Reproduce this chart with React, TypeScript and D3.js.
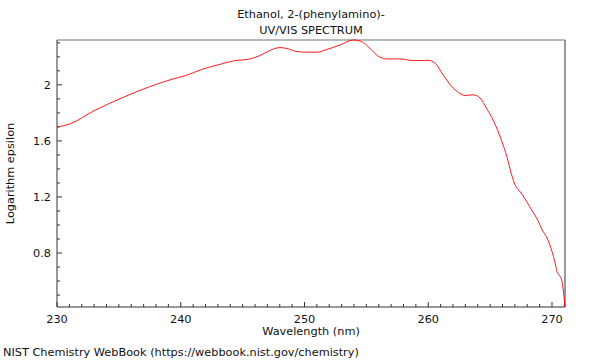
import React, { useRef, useEffect } from 'react';
import * as d3 from 'd3';

// spectrum (wavelength nm, log epsilon)
const wavelengths = [
  230.0, 231.0, 233.1, 235.2, 237.4, 239.3, 240.4, 241.6, 243.2, 244.3,
  245.6, 246.4, 247.2, 248.0, 248.7, 249.4, 250.3, 251.0, 251.8, 252.9,
  253.95, 254.6, 255.3, 256.1, 256.7, 257.7, 258.8, 259.5, 260.0, 260.55,
  261.2, 261.9, 262.45, 263.0, 263.65, 264.2, 264.7, 265.3, 265.95, 266.35,
  266.7, 267.0, 267.4, 267.8, 268.2, 268.6, 268.9, 269.2, 269.6, 270.0,
  270.25, 270.4, 270.65, 270.8, 271.05,
];
const logEpsilon = [
  1.699, 1.72, 1.82, 1.905, 1.984, 2.04, 2.066, 2.107, 2.147, 2.171,
  2.185, 2.209, 2.245, 2.266, 2.257, 2.237, 2.233, 2.233, 2.252, 2.285,
  2.32, 2.309, 2.26, 2.197, 2.185, 2.185, 2.173, 2.174, 2.175, 2.155,
  2.071, 1.988, 1.945, 1.924, 1.929, 1.905, 1.834, 1.738, 1.596, 1.489,
  1.37, 1.29, 1.24, 1.19, 1.13, 1.073, 1.026, 0.967, 0.907, 0.812,
  0.729, 0.67, 0.634, 0.6, 0.415,
];
const xMajorTicks = [230, 240, 250, 260, 270];
const yMajorTicks = [0.8, 1.2, 1.6, 2];

const titleLines = ['Ethanol, 2-(phenylamino)-', 'UV/VIS SPECTRUM'];
const xLabel = 'Wavelength (nm)';
const yLabel = 'Logarithm epsilon';
const footer = 'NIST Chemistry WebBook (https://webbook.nist.gov/chemistry)';

const App = () => {
  const svgRef = useRef<SVGSVGElement>(null);
  const width = 600;
  const height = 360;

  useEffect(() => {
    const svg = d3.select(svgRef.current);
    svg.selectAll('*').remove();

    const margin = { top: 40, right: 35, bottom: 53, left: 57 };
    const innerWidth = width - margin.left - margin.right;
    const innerHeight = height - margin.top - margin.bottom;
    const font = 'DejaVu Sans, sans-serif';
    const fs = 11.3;

    const data = wavelengths.map((w, i) => ({ w, v: logEpsilon[i] }));

    const xScale = d3.scaleLinear().domain([230, 271.05]).range([0, innerWidth]);
    const yScale = d3.scaleLinear().domain([0.415, 2.32]).range([innerHeight, 0]);

    const g = svg.append('g').attr('transform', `translate(${margin.left}, ${margin.top})`);

    // frame: top grey, right dark
    g.append('line').attr('x1', 0).attr('x2', innerWidth).attr('y1', 0).attr('y2', 0)
      .attr('stroke', '#a0a0a0').attr('stroke-width', 1.5);
    g.append('line').attr('x1', innerWidth).attr('x2', innerWidth).attr('y1', 0).attr('y2', innerHeight)
      .attr('stroke', '#333').attr('stroke-width', 1);

    // x axis, ticks pointing inwards
    const xMinor = d3.range(230, 272, 1).filter(d => xScale(d) <= innerWidth);
    const xAxis = g.append('g').attr('transform', `translate(0, ${innerHeight})`);
    xAxis.append('line').attr('x1', 0).attr('x2', innerWidth).attr('stroke', '#333');
    xAxis.selectAll('.minor').data(xMinor).enter().append('line')
      .attr('x1', d => xScale(d)).attr('x2', d => xScale(d))
      .attr('y1', 0).attr('y2', d => (d % 10 === 0 ? -5 : -3))
      .attr('stroke', '#333');
    xAxis.selectAll('text').data(xMajorTicks).enter().append('text')
      .attr('x', d => xScale(d)).attr('y', 16)
      .attr('text-anchor', 'middle').attr('font-family', font).attr('font-size', fs)
      .attr('fill', '#111').text(d => d);

    // y axis
    const yMinor = d3.range(5, 24).map(d => d / 10);
    const yAxis = g.append('g');
    yAxis.append('line').attr('y1', 0).attr('y2', innerHeight).attr('stroke', '#333');
    yAxis.selectAll('.minor').data(yMinor).enter().append('line')
      .attr('y1', d => yScale(d)).attr('y2', d => yScale(d))
      .attr('x1', 0).attr('x2', d => (yMajorTicks.some(t => Math.abs(t - d) < 1e-6) ? 5 : 3))
      .attr('stroke', '#333');
    yAxis.selectAll('text').data(yMajorTicks).enter().append('text')
      .attr('x', -6).attr('y', d => yScale(d)).attr('dy', '0.35em')
      .attr('text-anchor', 'end').attr('font-family', font).attr('font-size', fs)
      .attr('fill', '#111').text(d => d);

    // spectrum
    const line = d3.line<{ w: number; v: number }>()
      .x(d => xScale(d.w)).y(d => yScale(d.v))
      .curve(d3.curveMonotoneX);
    g.append('path').datum(data).attr('d', line)
      .attr('fill', 'none').attr('stroke', '#ff0000').attr('stroke-width', 0.9);

    // titles and labels
    titleLines.forEach((t, i) => {
      svg.append('text').attr('x', margin.left + innerWidth / 2).attr('y', 18 + i * 16)
        .attr('text-anchor', 'middle').attr('font-family', font).attr('font-size', fs)
        .attr('fill', '#111').text(t);
    });
    svg.append('text').attr('x', margin.left + innerWidth / 2).attr('y', 335)
      .attr('text-anchor', 'middle').attr('font-family', font).attr('font-size', fs)
      .attr('fill', '#111').text(xLabel);
    svg.append('text')
      .attr('transform', `translate(14, ${margin.top + innerHeight / 2}) rotate(-90)`)
      .attr('text-anchor', 'middle').attr('font-family', font).attr('font-size', fs)
      .attr('fill', '#111').text(yLabel);
    svg.append('text').attr('x', 3).attr('y', 356)
      .attr('font-family', font).attr('font-size', fs)
      .attr('fill', '#111').text(footer);
  }, []);

  return (
    <svg ref={svgRef} width={width} height={height}
      style={{ position: 'absolute', left: 0, top: 0, background: '#fff' }} />
  );
};

export default App;
